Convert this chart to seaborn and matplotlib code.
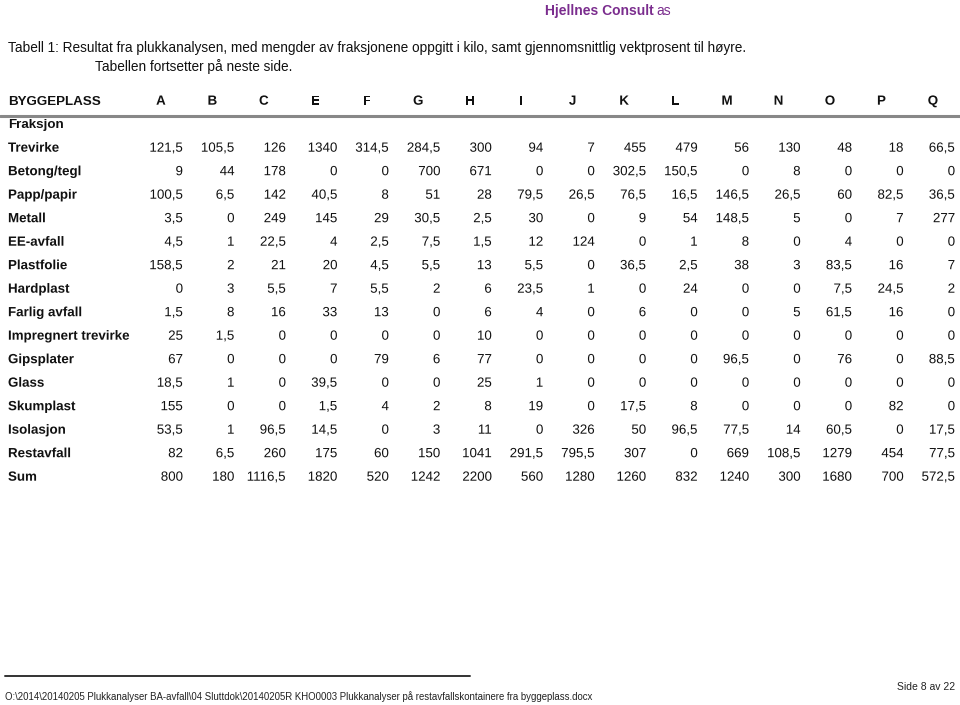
import numpy as np
import pandas as pd
import matplotlib
matplotlib.use("Agg")
import matplotlib.pyplot as plt
import matplotlib.transforms as mtransforms
import matplotlib.patheffects as pe
from matplotlib.colors import ListedColormap
from matplotlib.lines import Line2D
import seaborn as sns

sns.set_theme(style="white")
plt.rcParams['font.family'] = ['Liberation Sans', 'DejaVu Sans']

# Byggeplasser (kolonner) og fraksjoner (rader), mengder i kilo
byggeplasser = ["A", "B", "C", "E", "F", "G", "H", "I", "J", "K", "L", "M", "N", "O", "P", "Q"]
fraksjoner = ["Trevirke", "Betong/tegl", "Papp/papir", "Metall", "EE-avfall", "Plastfolie",
              "Hardplast", "Farlig avfall", "Impregnert trevirke", "Gipsplater", "Glass",
              "Skumplast", "Isolasjon", "Restavfall", "Sum"]

trevirke = [121.5, 105.5, 126, 1340, 314.5, 284.5, 300, 94, 7, 455, 479, 56, 130, 48, 18, 66.5]
betong_tegl = [9, 44, 178, 0, 0, 700, 671, 0, 0, 302.5, 150.5, 0, 8, 0, 0, 0]
papp_papir = [100.5, 6.5, 142, 40.5, 8, 51, 28, 79.5, 26.5, 76.5, 16.5, 146.5, 26.5, 60, 82.5, 36.5]
metall = [3.5, 0, 249, 145, 29, 30.5, 2.5, 30, 0, 9, 54, 148.5, 5, 0, 7, 277]
ee_avfall = [4.5, 1, 22.5, 4, 2.5, 7.5, 1.5, 12, 124, 0, 1, 8, 0, 4, 0, 0]
plastfolie = [158.5, 2, 21, 20, 4.5, 5.5, 13, 5.5, 0, 36.5, 2.5, 38, 3, 83.5, 16, 7]
hardplast = [0, 3, 5.5, 7, 5.5, 2, 6, 23.5, 1, 0, 24, 0, 0, 7.5, 24.5, 2]
farlig_avfall = [1.5, 8, 16, 33, 13, 0, 6, 4, 0, 6, 0, 0, 5, 61.5, 16, 0]
impregnert = [25, 1.5, 0, 0, 0, 0, 10, 0, 0, 0, 0, 0, 0, 0, 0, 0]
gipsplater = [67, 0, 0, 0, 79, 6, 77, 0, 0, 0, 0, 96.5, 0, 76, 0, 88.5]
glass = [18.5, 1, 0, 39.5, 0, 0, 25, 1, 0, 0, 0, 0, 0, 0, 0, 0]
skumplast = [155, 0, 0, 1.5, 4, 2, 8, 19, 0, 17.5, 8, 0, 0, 0, 82, 0]
isolasjon = [53.5, 1, 96.5, 14.5, 0, 3, 11, 0, 326, 50, 96.5, 77.5, 14, 60.5, 0, 17.5]
restavfall = [82, 6.5, 260, 175, 60, 150, 1041, 291.5, 795.5, 307, 0, 669, 108.5, 1279, 454, 77.5]
summer = [800, 180, 1116.5, 1820, 520, 1242, 2200, 560, 1280, 1260, 832, 1240, 300, 1680, 700, 572.5]

df = pd.DataFrame([trevirke, betong_tegl, papp_papir, metall, ee_avfall, plastfolie,
                   hardplast, farlig_avfall, impregnert, gipsplater, glass, skumplast,
                   isolasjon, restavfall, summer],
                  index=fraksjoner, columns=byggeplasser)


def fmt_kilo(v):
    # norsk desimalkomma
    if float(v).is_integer():
        return str(int(v))
    return f"{v:.1f}".replace(".", ",")


labels = df.map(fmt_kilo).values

W, H = 960, 705
fig = plt.figure(figsize=(W / 100, H / 100), dpi=100)
fig.patch.set_facecolor("white")

# aksene dekker tabellomraadet (piksler -> figurbroek)
ax = fig.add_axes([157.3 / W, 1 - 487.75 / H, 823.5 / W, 352.5 / H])
FS = 9.6
TXT = "#111111"
BASE = 0.2  # baseline-forskyvning i radenheter
sns.heatmap(df, cmap=ListedColormap(["white"]), cbar=False, annot=labels, fmt="",
            annot_kws={"ha": "right", "va": "baseline", "fontsize": FS, "color": TXT},
            ax=ax, linewidths=0)
ax.set_xticks([])
ax.set_yticks([])
ax.set_xlabel("")
ax.set_ylabel("")
for s in ax.spines.values():
    s.set_visible(False)

# tallene staar paa samme grunnlinje i hver rad (tegnes som path for aa unngaa avrundingshopp)
for t in ax.texts:
    x, y = t.get_position()
    t.set_position((x, y + BASE))
    t.set_path_effects([pe.Normal()])

blend = mtransforms.blended_transform_factory(fig.transFigure, ax.transData)
for i, name in enumerate(fraksjoner):
    ax.text(8 / W, i + 0.5 + BASE, name, transform=blend, ha="left", va="baseline",
            fontsize=FS, fontweight="bold", color=TXT, path_effects=[pe.Normal()])

# overskriftsrad
ax.text(8 / W, -1.5 + BASE, "BYGGEPLASS", transform=blend, ha="left", va="baseline",
        fontsize=FS, fontweight="bold", color=TXT)
for j, site in enumerate(byggeplasser):
    ax.text(j + 0.07, -1.5 + BASE, site, ha="center", va="baseline",
            fontsize=FS, fontweight="bold", color=TXT, path_effects=[pe.Normal()])
ax.text(8 / W, -0.5 + BASE, "Fraksjon", transform=blend, ha="left", va="baseline",
        fontsize=FS, fontweight="bold", color=TXT)

fig.add_artist(Line2D([0, 1], [1 - 116 / H, 1 - 116 / H], transform=fig.transFigure,
                      color="#888888", lw=2.2))

# tittel
fig.text(8 / W, 1 - 48 / H, "Tabell 1: Resultat fra plukkanalysen, med mengder av fraksjonene "
         "oppgitt i kilo, samt gjennomsnittlig vektprosent til høyre.",
         ha="left", va="center", fontsize=9.8, color=TXT)
fig.text(95 / W, 1 - 67 / H, "Tabellen fortsetter på neste side.",
         ha="left", va="center", fontsize=9.8, color=TXT)

# logo
logo = fig.text(545 / W, 1 - 11 / H, "Hjellnes Consult", ha="left", va="center", fontsize=10,
                fontweight="bold", color="#7b2d8e")
fig.canvas.draw()
bb = logo.get_window_extent()
fig.text((bb.x1 + 3) / W, 1 - 11 / H, "as", ha="left", va="center", fontsize=10,
         color="#7b2d8e")

# bunntekst
fig.add_artist(Line2D([5 / W, 470 / W], [1 - 676 / H, 1 - 676 / H], transform=fig.transFigure,
                      color="#333333", lw=1.4))
fig.text(5 / W, 1 - 697 / H, "O:\\2014\\20140205 Plukkanalyser BA-avfall\\04 Sluttdok\\20140205R "
         "KHO0003 Plukkanalyser på restavfallskontainere fra byggeplass.docx",
         ha="left", va="center", fontsize=6.9, color="#222222")
fig.text(955 / W, 1 - 687 / H, "Side 8 av 22", ha="right", va="center", fontsize=7.5,
         color="#222222")

fig.savefig("out.png", dpi=100, facecolor="white")
